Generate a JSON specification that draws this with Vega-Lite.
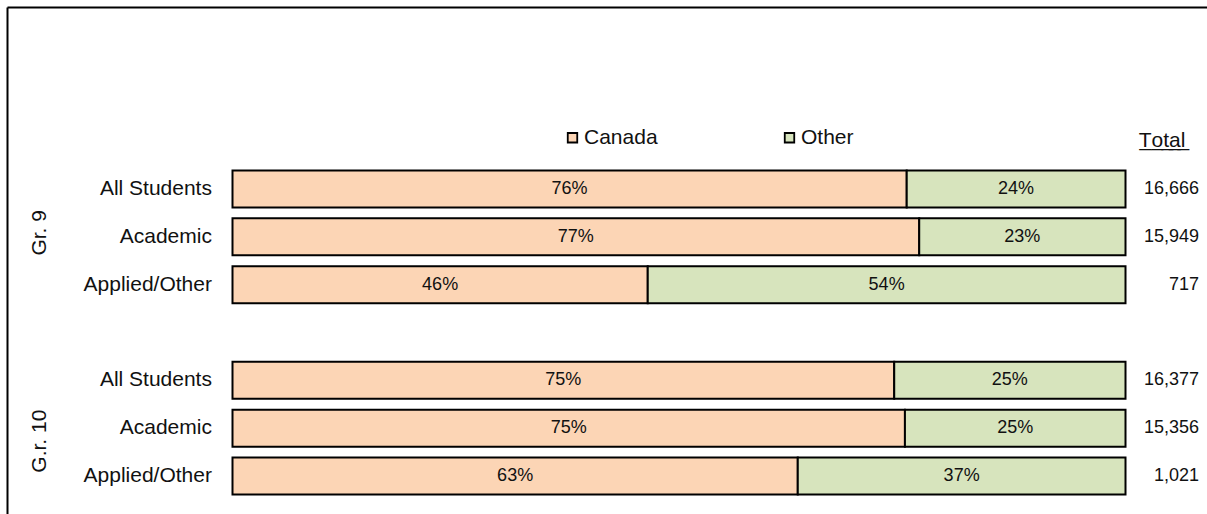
{
  "$schema": "https://vega.github.io/schema/vega-lite/v6.json",
  "width": 1200,
  "height": 507,
  "autosize": {"type": "none"},
  "padding": {"left": 7, "top": 7, "right": 0, "bottom": 0},
  "background": "white",
  "config": {"view": {"stroke": null}, "font": "Liberation Sans"},
  "datasets": {
    "segs": [
      {"key": "g9_all", "segment": "Canada", "share": 0.755, "label": "76%"},
      {"key": "g9_all", "segment": "Other", "share": 0.245, "label": "24%"},
      {"key": "g9_aca", "segment": "Canada", "share": 0.769, "label": "77%"},
      {"key": "g9_aca", "segment": "Other", "share": 0.231, "label": "23%"},
      {"key": "g9_app", "segment": "Canada", "share": 0.465, "label": "46%"},
      {"key": "g9_app", "segment": "Other", "share": 0.535, "label": "54%"},
      {"key": "g10_all", "segment": "Canada", "share": 0.741, "label": "75%"},
      {"key": "g10_all", "segment": "Other", "share": 0.259, "label": "25%"},
      {"key": "g10_aca", "segment": "Canada", "share": 0.753, "label": "75%"},
      {"key": "g10_aca", "segment": "Other", "share": 0.247, "label": "25%"},
      {"key": "g10_app", "segment": "Canada", "share": 0.633, "label": "63%"},
      {"key": "g10_app", "segment": "Other", "share": 0.367, "label": "37%"}
    ],
    "rows": [
      {"key": "g9_all", "cat": "All Students", "total": "16,666"},
      {"key": "g9_aca", "cat": "Academic", "total": "15,949"},
      {"key": "g9_app", "cat": "Applied/Other", "total": "717"},
      {"key": "g10_all", "cat": "All Students", "total": "16,377"},
      {"key": "g10_aca", "cat": "Academic", "total": "15,356"},
      {"key": "g10_app", "cat": "Applied/Other", "total": "1,021"}
    ]
  },
  "layer": [
    {
      "data": {"name": "segs"},
      "mark": {"type": "bar", "stroke": "black", "strokeWidth": 2},
      "encoding": {
        "y": {
          "field": "key", "type": "nominal",
          "scale": {"domain": ["t1", "t2", "hdr", "g9_all", "g9_aca", "g9_app", "gap", "g10_all", "g10_aca", "g10_app"], "paddingInner": 0.2264, "paddingOuter": 0.4132, "align": 0.506, "round": false},
          "axis": {"title": null, "labels": false, "ticks": false, "grid": false, "domain": true, "domainColor": "black", "domainWidth": 2}
        },
        "x": {
          "field": "share", "type": "quantitative", "stack": "zero",
          "scale": {"domain": [-0.25252, 1.09126], "nice": false, "zero": false},
          "axis": {"orient": "top", "title": null, "labels": false, "ticks": false, "grid": false, "domain": true, "domainColor": "black", "domainWidth": 2}
        },
        "color": {
          "field": "segment", "type": "nominal",
          "scale": {"domain": ["Canada", "Other"], "range": ["#FCD5B5", "#D7E4BD"]},
          "legend": {"orient": "none", "legendX": 555, "legendY": 120, "direction": "horizontal", "title": null, "symbolType": "square", "symbolSize": 90, "symbolStrokeColor": "black", "symbolStrokeWidth": 1.8, "symbolOpacity": 1, "labelFontSize": 21, "labelFont": "Liberation Sans", "labelColor": "#111", "columnPadding": 121, "labelOffset": 1}
        },
        "order": {"field": "segment", "type": "nominal", "sort": "ascending"}
      }
    },
    {
      "data": {"name": "segs"},
      "mark": {"type": "text", "fontSize": 18, "font": "Liberation Sans", "color": "#111", "baseline": "middle", "align": "center"},
      "encoding": {
        "y": {"field": "key", "type": "nominal"},
        "x": {"field": "share", "type": "quantitative", "stack": "zero", "bandPosition": 0.5},
        "detail": {"field": "segment", "type": "nominal"},
        "order": {"field": "segment", "type": "nominal", "sort": "ascending"},
        "text": {"field": "label", "type": "nominal"}
      }
    },
    {
      "data": {"name": "rows"},
      "mark": {"type": "text", "fontSize": 21, "font": "Liberation Sans", "color": "#111", "baseline": "middle", "align": "right"},
      "encoding": {
        "y": {"field": "key", "type": "nominal"},
        "x": {"datum": -0.023},
        "text": {"field": "cat", "type": "nominal"}
      }
    },
    {
      "data": {"name": "rows"},
      "mark": {"type": "text", "fontSize": 18, "font": "Liberation Sans", "color": "#111", "baseline": "middle", "align": "right"},
      "encoding": {
        "y": {"field": "key", "type": "nominal"},
        "x": {"datum": 1.0823},
        "text": {"field": "total", "type": "nominal"}
      }
    },
    {
      "data": {"values": [{"key": "hdr", "head": "T\u0332o\u0332t\u0332a\u0332l\u0332"}]},
      "mark": {"type": "text", "fontSize": 21, "font": "Liberation Sans", "color": "#111", "baseline": "middle", "align": "center"},
      "encoding": {
        "y": {"field": "key", "type": "nominal"},
        "x": {"datum": 1.041},
        "text": {"field": "head", "type": "nominal"}
      }
    },
    {
      "data": {"values": [{"key": "g9_aca", "group": "Gr. 9"}]},
      "mark": {"type": "text", "fontSize": 21, "font": "Liberation Sans", "color": "#111", "baseline": "middle", "align": "center", "angle": 270, "dx": 4},
      "encoding": {
        "y": {"field": "key", "type": "nominal"},
        "x": {"datum": -0.2156},
        "text": {"field": "group", "type": "nominal"}
      }
    },
    {
      "data": {"values": [{"key": "g10_aca", "group": "G.r. 10"}]},
      "mark": {"type": "text", "fontSize": 21, "font": "Liberation Sans", "color": "#111", "baseline": "middle", "align": "center", "angle": 270, "dx": -13},
      "encoding": {
        "y": {"field": "key", "type": "nominal"},
        "x": {"datum": -0.2156},
        "text": {"field": "group", "type": "nominal"}
      }
    }
  ]
}
